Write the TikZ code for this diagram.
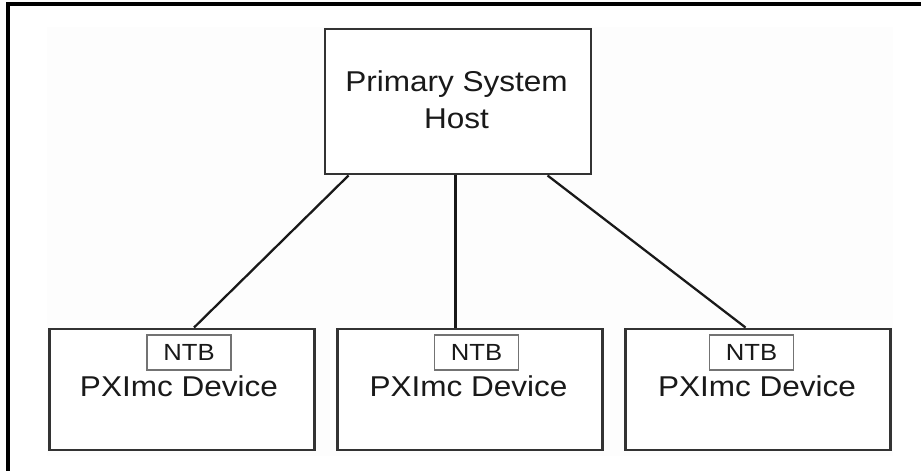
\documentclass[tikz,border=0pt]{standalone}
\usepackage{fontspec}
\setmainfont{Liberation Sans}[FakeStretch=1.1]
\usetikzlibrary{positioning}

\tikzset{
  box/.style={draw=black!80,line width=2.2pt,minimum width=198.75pt,minimum height=90.75pt,inner sep=0pt},
  ntb/.style={draw=black!55,line width=1.1pt,minimum width=63pt,minimum height=26.25pt,inner sep=0pt,
    font=\fontsize{17.5}{20}\selectfont,text=black!90},
  label/.style={inner sep=0pt,font=\fontsize{21.5}{27.75}\selectfont,text=black!90},
  link/.style={black!90,line width=1.7pt}
}

\begin{document}
\begin{tikzpicture}[x=0.75pt,y=-0.75pt]
\useasboundingbox (0,0) rectangle (921,471);
\clip (0,0) rectangle (921,471);
\fill[white] (0,0) rectangle (921,471);
\fill[black!0.8] (47,27) rectangle (893,456);
\draw[line width=2.4pt] (8,480) -- (8,4) -- (940,4);

\node (host) [box,fill=white,minimum width=199.5pt,minimum height=108.75pt] at (458,101.5) {};
\node (hostl) [label,align=center] at (456.5,100) {Primary System\\Host};

\node (dev1) [box,fill=white] at (182,389.5) {};
\node (ntb1) [ntb] at (189,352.5) {NTB};
\node (devl1) [label,anchor=base] at (179,396.5) {PXImc Device};

\node (dev2) [box,fill=white] at (470,389.5) {};
\node (ntb2) [ntb] at (476.5,352.5) {NTB};
\node (devl2) [label,anchor=base] at (468.5,396.5) {PXImc Device};

\node (dev3) [box,fill=white] at (758,389.5) {};
\node (ntb3) [ntb] at (751.5,352.5) {NTB};
\node (devl3) [label,anchor=base] at (757,396.5) {PXImc Device};

\path (host.south west) +(25,0) coordinate (h1);
\path (dev1.north west) +(146,0) coordinate (d1);
\draw[link] (h1) -- (d1);
\path (host.south west) +(132,0) coordinate (h2);
\path (dev2.north west) +(119.5,0) coordinate (d2);
\draw[link] (h2) -- (d2);
\path (host.south west) +(224,0) coordinate (h3);
\path (dev3.north west) +(121.5,0) coordinate (d3);
\draw[link] (h3) -- (d3);
\end{tikzpicture}
\end{document}
